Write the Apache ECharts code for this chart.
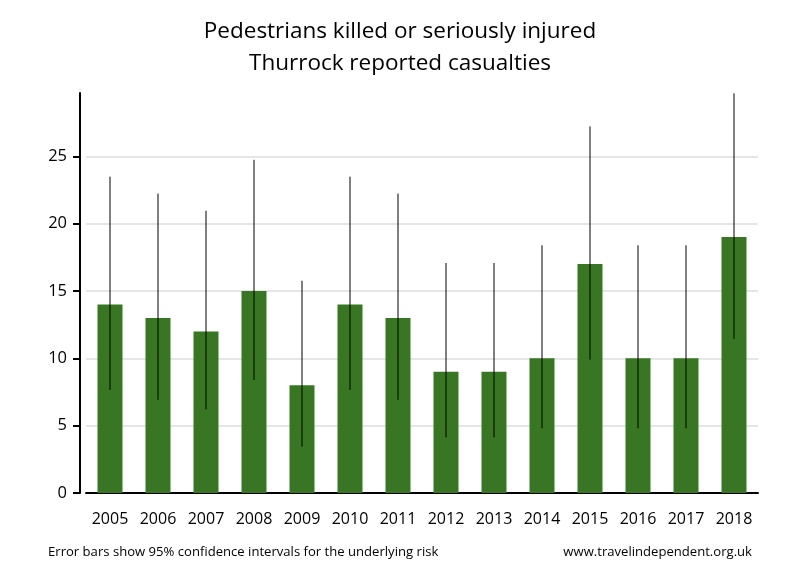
<!DOCTYPE html>
<html><head><meta charset="utf-8">
<script src="https://cdn.jsdelivr.net/npm/echarts@6/dist/echarts.min.js"></script>
<style>html,body{margin:0;padding:0;background:#fff}#c{width:800px;height:580px}</style>
</head><body><div id="c"></div>
<script>
const years = ['2005','2006','2007','2008','2009','2010','2011','2012','2013','2014','2015','2016','2017','2018'];
const casualties = [14,13,12,15,8,14,13,9,9,10,17,10,10,19];
const ciLow = [7.65,6.92,6.2,8.4,3.45,7.65,6.92,4.12,4.12,4.8,9.9,4.8,4.8,11.44];
const ciHigh = [23.49,22.23,20.96,24.74,15.76,23.49,22.23,17.08,17.08,18.39,27.22,18.39,18.39,29.67];
const yTicks = [0,5,10,15,20,25];

const font = '"Open Sans", "Noto Sans", sans-serif';
const chart = echarts.init(document.getElementById('c'), null, {renderer:'canvas'});
chart.setOption({
  animation:false,
  backgroundColor:'#fff',
  title:{
    text:'Pedestrians killed or seriously injured\nThurrock reported casualties',
    left:'center', top:11,
    textStyle:{fontFamily:font, fontSize:22.5, fontWeight:'normal', color:'#000', lineHeight:31.5}
  },
  graphic:[
    {type:'text', left:48, top:546, style:{text:'Error bars show 95% confidence intervals for the underlying risk', font:'13.1px '+font, fill:'#000'}},
    {type:'text', right:48, top:546, style:{text:'www.travelindependent.org.uk', font:'13.1px '+font, fill:'#000'}}
  ],
  grid:{left:86, right:42, top:93, bottom:87},
  xAxis:{
    type:'category', data:years,
    axisLine:{lineStyle:{color:'#000', width:2}},
    axisTick:{show:false},
    axisLabel:{color:'#000', fontFamily:font, fontSize:16, margin:18, interval:0, hideOverlap:false}
  },
  yAxis:{
    type:'value', min:0, max:29.7, interval:5, offset:6,
    axisLine:{show:true, lineStyle:{color:'#000', width:2}},
    axisTick:{show:true, length:7, lineStyle:{color:'#000', width:2}, customValues:yTicks},
    axisLabel:{color:'#000', fontFamily:font, fontSize:16.5, margin:13, customValues:yTicks},
    splitLine:{show:false}
  },
  series:[
    {type:'bar', data:casualties, barWidth:25, itemStyle:{color:'#387623'}, z:2,
      markLine:{silent:true, symbol:'none', label:{show:false}, z:1,
        lineStyle:{color:'#e6e6e6', width:2, type:'solid'},
        data: yTicks.filter(v=>v>0).map(v=>({yAxis:v}))}
    },
    {type:'custom', z:3,
      data: years.map((y,i)=>[i, ciLow[i], ciHigh[i]]),
      renderItem:function(params, api){
        const lo = api.coord([api.value(0), api.value(1)]);
        const hi = api.coord([api.value(0), api.value(2)]);
        return {type:'line', shape:{x1:lo[0], y1:lo[1], x2:hi[0], y2:hi[1]},
          style:{stroke:'#000', lineWidth:1}};
      }
    }
  ]
});
</script></body></html>
